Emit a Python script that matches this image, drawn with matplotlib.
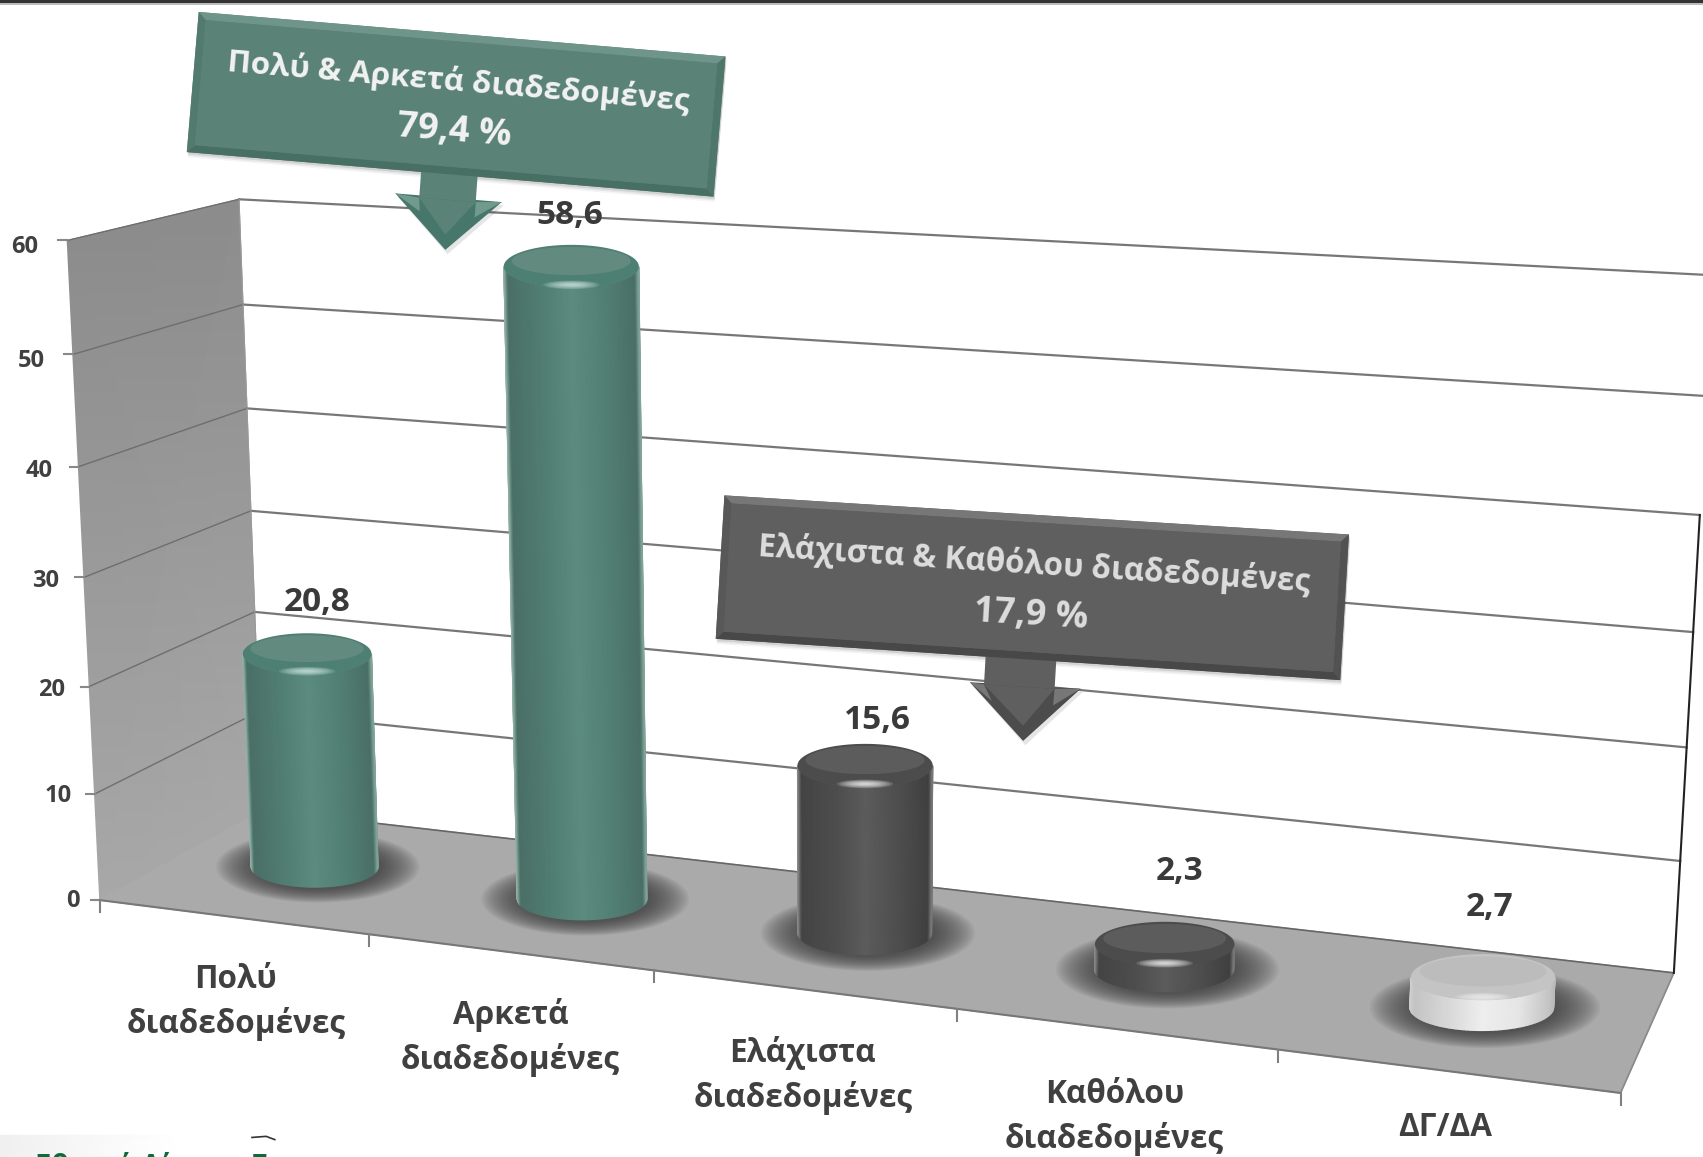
import numpy as np
import matplotlib
matplotlib.use("Agg")
from matplotlib import pyplot as plt
from matplotlib.colors import LinearSegmentedColormap
from matplotlib.patches import Ellipse

categories = ["Πολύ\nδιαδεδομένες", "Αρκετά\nδιαδεδομένες", "Ελάχιστα\nδιαδεδομένες",
              "Καθόλου\nδιαδεδομένες", "ΔΓ/ΔΑ"]
values = [20.8, 58.6, 15.6, 2.3, 2.7]
value_labels = ["20,8", "58,6", "15,6", "2,3", "2,7"]
y_ticks = [0, 10, 20, 30, 40, 50, 60]
bar_kind = ["green", "green", "dark", "dark", "light"]
group_title = ["Πολύ & Αρκετά διαδεδομένες", "Ελάχιστα & Καθόλου διαδεδομένες"]
group_value = ["79,4 %", "17,9 %"]

# text placement, picture coordinates
value_label_xy = [(292, 555), (525, 198), (808, 663), (1086, 802), (1371, 835)]
cat_label_xy = [(217, 922), (470, 955), (739, 990), (1026, 1028), (1331, 1038)]
tick_label_xy = [(73, 829), (66, 733), (60, 635), (54, 535), (48, 434), (41, 332), (35, 227)]

# camera: chart coordinates (category, value, depth) -> picture coordinates
calib = [
    (0, 0, 0, 95, 827), (0, 10, 0, 88, 728), (0, 20, 0, 82, 630), (0, 30, 0, 77, 530),
    (0, 40, 0, 72, 430), (0, 50, 0, 66, 328), (0, 60, 0, 57, 223),
    (0, 0, 1, 235, 752), (0, 50, 1, 226, 280), (0, 40, 1, 230, 375), (0, 60, 1, 222, 183),
    (1, 0, 0, 342, 858), (2, 0, 0, 603, 893), (3, 0, 0, 881, 930), (4, 0, 0, 1176, 968),
    (5, 0, 0, 1492, 1010), (5, 0, 1, 1541, 890), (5, 30, 1, 1560, 582), (5, 40, 1, 1565, 474),
    (5, 50, 1, 1571, 365), (5, 60, 1, 1577, 253),
]
A, b = [], []
for cx, cy, cz, u, v in calib:
    cy = cy / 10.0
    A.append([cx, cy, cz, 1, 0, 0, 0, 0, -u * cx, -u * cy, -u * cz])
    b.append(u)
    A.append([0, 0, 0, 0, cx, cy, cz, 1, -v * cx, -v * cy, -v * cz])
    b.append(v)
P = np.linalg.lstsq(np.array(A, float), np.array(b, float), rcond=None)[0]
P = np.append(P, 1.0).reshape(3, 4)


def project(x, y, z):
    x, y, z = np.broadcast_arrays(np.asarray(x, float), np.asarray(y, float) / 10.0, np.asarray(z, float))
    w = P[2, 0] * x + P[2, 1] * y + P[2, 2] * z + P[2, 3]
    u = (P[0, 0] * x + P[0, 1] * y + P[0, 2] * z + P[0, 3]) / w
    v = (P[1, 0] * x + P[1, 1] * y + P[1, 2] * z + P[1, 3]) / w
    return u, v


fig = plt.figure(figsize=(17.03, 11.57), dpi=100)
ax = fig.add_axes([0, 0, 1, 1])
ax.set_axis_off()
plt.rcParams["font.family"] = ["Open Sans", "DejaVu Sans"]
TXT = "#404040"


def grad_quad(p00, p10, p01, p11, c0, c1, zorder=1):
    # quad shaded from the first edge (c0) to the second one (c1)
    cm = LinearSegmentedColormap.from_list("q", [c0, c1])
    X = np.array([[p00[0], p10[0]], [p01[0], p11[0]]])
    Y = np.array([[p00[1], p10[1]], [p01[1], p11[1]]])
    ax.pcolormesh(X, Y, np.array([[0.0, 0.0], [1.0, 1.0]]), shading="gouraud", cmap=cm, vmin=0, vmax=1, zorder=zorder)


# walls and floor
grad_quad(project(0, 60, 0), project(0, 60, 1), project(0, 0, 0), project(0, 0, 1), "#8c8c8c", "#a8a8a8")
u, v = project([0, 5, 5, 0], 0, [0, 0, 1, 1])
ax.fill(u, v, color="#aaaaaa", zorder=1)
ax.plot(u[:2], v[:2], color="#777777", lw=1.5, zorder=2)
ax.plot(u[1:3], v[1:3], color="#8a8a8a", lw=1.2, zorder=2)
ax.plot(u[2:4], v[2:4], color="#666666", lw=1.2, zorder=2)

# gridlines
for t, (xp, yp) in zip(y_ticks, tick_label_xy):
    if t > 0:
        u, v = project([0, 0, 5], t, [0, 1, 1])
        ax.plot(u[:2], v[:2], color="#6e6e6e", lw=1.0, zorder=2)
        ax.plot(u[1:], v[1:], color="#777777", lw=1.6, zorder=2)
    u, v = project(0, t, 0)
    ax.plot([u - 8, u], [v, v], color="#888888", lw=1.5, zorder=2)
    ax.text(xp, yp, str(t), ha="right", va="center", fontsize=17, fontweight="bold", color=TXT)
u, v = project(5, [0, 40], 1)
ax.plot(u, v, color="#222222", lw=1.5, zorder=2)
u, v = project(0, [0, 60], 1)
ax.plot(u, v, color="#9a9a9a", lw=0.8, zorder=2)

# category ticks and labels
for i in range(6):
    u, v = project(i, 0, 0)
    ax.plot([u, u], [v, v + 11], color="#808080", lw=1.5, zorder=2)
for lab, (xp, yp) in zip(categories, cat_label_xy):
    ax.text(xp, yp, lab, ha="center", va="center", fontsize=22.7, fontweight="bold", color=TXT, linespacing=1.42)

kinds = {
    "green": dict(side=["#93b3a9", "#4a6f66", "#527f73", "#5c8c7f", "#527f73", "#4a6f66", "#7fa398"],
                  rim="#4d7f72", cap="#628a7f", hi="#d8efe8"),
    "dark": dict(side=["#8a8a8a", "#444444", "#4e4e4e", "#5c5c5c", "#4e4e4e", "#404040", "#777777"],
                 rim="#4c4c4c", cap="#5c5c5c", hi="#ffffff"),
    "light": dict(side=["#cfcfcf", "#c4c4c4", "#dcdcdc", "#eeeeee", "#e6e6e6", "#c4c4c4", "#bbbbbb"],
                  rim="#c4c4c4", cap="#bcbcbc", hi="#f2f2f2"),
}
stops = [0, 0.03, 0.3, 0.5, 0.75, 0.97, 1]
bar_rx = [0.244, 0.236, 0.23, 0.226, 0.22]
BAR_Z, B_RATIO, BAR_DX, BAR_H = 0.52, 0.32, -0.005, 0.985
th = np.linspace(0, 2 * np.pi, 121)
front = np.linspace(np.pi, 0, 61)

for i, val in enumerate(values):
    cx = i + 0.5 + BAR_DX
    top = val * BAR_H
    RX = bar_rx[i]
    k = kinds[bar_kind[i]]
    z_base = 5 + i

    ub0, vb0 = project(cx, 0, BAR_Z)
    ut0, vt0 = project(cx, top, BAR_Z)
    ua = project(cx + RX, 0, BAR_Z)[0] - project(cx - RX, 0, BAR_Z)[0]
    ta = project(cx + RX, top, BAR_Z)[0] - project(cx - RX, top, BAR_Z)[0]
    ua, ta = ua / 2, ta / 2

    # soft shadow on the floor
    for s in np.linspace(1.6, 1.0, 18):
        ax.fill(ub0 + 3 + ua * s * np.cos(th), vb0 + ua * B_RATIO * 1.1 * s * np.sin(th), color="#3a3a3a",
                alpha=0.07, lw=0, zorder=z_base)

    # cylinder body
    ub = ub0 + ua * np.cos(front)
    vb = vb0 + ua * B_RATIO * np.sin(front)
    ut = ut0 + ta * np.cos(front)
    vt = vt0 + ta * B_RATIO * np.sin(front)
    cm = LinearSegmentedColormap.from_list("side", list(zip(stops, k["side"])))
    s = (1 + np.cos(front)) / 2
    ax.pcolormesh(np.array([ub, ut]), np.array([vb, vt]), np.array([s, s]), shading="gouraud",
                  cmap=cm, vmin=0, vmax=1, zorder=z_base + 0.1)

    # cap
    tb = ta * B_RATIO
    ax.fill(ut0 + ta * np.cos(th), vt0 + tb * np.sin(th), color=k["rim"], lw=0, zorder=z_base + 0.2)
    ax.fill(ut0 + ta * 0.88 * np.cos(th), vt0 - tb * 0.25 + tb * 0.65 * np.sin(th), color=k["cap"], lw=0,
            zorder=z_base + 0.3)
    for f in np.linspace(1, 0.2, 8):
        ax.add_patch(Ellipse((float(ut0), float(vt0 + tb - 3)), 52 * f, 8 * f, color=k["hi"], alpha=0.16, lw=0,
                             zorder=z_base + 0.4))

for lab, (xp, yp) in zip(value_labels, value_label_xy):
    ax.text(xp, yp, lab, ha="center", va="center", fontsize=24, fontweight="bold", color="#3a3a3a", zorder=20)


def callout(corners, shaft, head, tip, face, top, bottom, left, right, head_col, wing_col):
    # corners are TL, TR, BR, BL
    corners = np.array(corners, float)
    head = np.array(head, float)
    tip = np.array(tip, float)
    shaft = np.array(shaft, float)
    zo = 30
    for d, a in zip([7, 5, 3], [0.04, 0.06, 0.09]):
        ax.fill(corners[:, 0] + 1, corners[:, 1] + d * 0.7, color="#000000", alpha=a, lw=0, zorder=zo)
    # arrow
    ax.fill([head[0][0] + 2, head[1][0] + 2, tip[0] + 2], [head[0][1] + 3, head[1][1] + 3, tip[1] + 4],
            color="#000000", alpha=0.1, lw=0, zorder=zo)
    ax.fill([head[0][0], head[1][0], tip[0]], [head[0][1], head[1][1], tip[1]], color=head_col, lw=0, zorder=zo + 0.1)
    # wings, a lighter facet next to the shaft
    for h, p in [(head[0], shaft[3]), (head[1], shaft[2])]:
        q = h + 0.32 * (tip - h)
        ax.fill([h[0], p[0], q[0] + (p[0] - h[0]) * 0.35], [h[1], p[1], q[1]], color=wing_col, lw=0, zorder=zo + 0.2)
    ax.fill([shaft[3][0], shaft[2][0], tip[0]], [shaft[3][1], shaft[2][1], tip[1] - 14], color=face, lw=0, zorder=zo + 0.25)
    ax.fill(shaft[:, 0], shaft[:, 1], color=face, lw=0, zorder=zo + 0.3)
    # box with bevel
    w = corners[1] - corners[0]
    h = corners[3] - corners[0]
    w = w / np.linalg.norm(w)
    h = h / np.linalg.norm(h)
    bev = 7
    inner = np.array([corners[0] + w * bev + h * bev, corners[1] - w * bev + h * bev,
                      corners[2] - w * bev - h * bev, corners[3] + w * bev - h * bev])
    ax.fill(corners[:, 0], corners[:, 1], color=face, lw=0, zorder=zo + 0.4)
    for a, b_, col in [(0, 1, top), (1, 2, right), (2, 3, bottom), (3, 0, left)]:
        ax.fill([corners[a, 0], corners[b_, 0], inner[b_, 0], inner[a, 0]],
                [corners[a, 1], corners[b_, 1], inner[b_, 1], inner[a, 1]], color=col, lw=0, zorder=zo + 0.5)
    ax.fill(inner[:, 0], inner[:, 1], color=face, lw=0, zorder=zo + 0.6)


callout([(183, 11), (668, 52), (657, 181), (172, 140)],
        [(389, 140), (441, 144), (438, 186), (386, 182)],
        [(364, 178), (462, 186)], (410, 230),
        "#5b8276", "#6f958a", "#476f64", "#527a6f", "#4e766b", "#47766a", "#6f9a8c")
callout([(667, 456), (1242, 492), (1234, 626), (659, 588)],
        [(908, 595), (973, 600), (971, 634), (906, 630)],
        [(893, 628), (995, 634)], (942, 682),
        "#5f5f5f", "#777777", "#484848", "#585858", "#525252", "#4c4c4c", "#777777")

ax.text(422, 75, group_title[0], ha="center", va="center", rotation=-4.9, rotation_mode="anchor",
        fontsize=22.6, fontweight="bold", color="#f2f2f2", zorder=40)
ax.text(418, 121, group_value[0], ha="center", va="center", rotation=-4.7, rotation_mode="anchor",
        fontsize=26, fontweight="bold", color="#f2f2f2", zorder=40)
ax.text(952, 520, group_title[1], ha="center", va="center", rotation=-3.7, rotation_mode="anchor",
        fontsize=22.7, fontweight="bold", color="#dddddd", zorder=40)
ax.text(949, 567, group_value[1], ha="center", va="center", rotation=-3.5, rotation_mode="anchor",
        fontsize=26, fontweight="bold", color="#dddddd", zorder=40)

# top border and the cut off logo in the corner
ax.fill([0, 1568, 1568, 0], [0, 0, 2.5, 2.5], color="#333333", lw=0, zorder=50)
ax.fill([0, 1568, 1568, 0], [2.5, 2.5, 4.5, 4.5], color="#bbbbbb", lw=0, zorder=50)
grad_quad((0, 1045), (0, 1065), (160, 1045), (160, 1065), "#f0f0f0", "#ffffff", zorder=3)
ax.plot([232, 245, 253], [1047, 1046, 1049], color="#333333", lw=1.2, zorder=3)
ax.text(32, 1075, "Εθνικό Δίκτυο Για", ha="left", va="center", fontsize=21, fontweight="bold", color="#0b6b3a", zorder=4)

ax.set_xlim(0, 1568)
ax.set_ylim(1065, 0)
fig.savefig("out.png", dpi=100)
